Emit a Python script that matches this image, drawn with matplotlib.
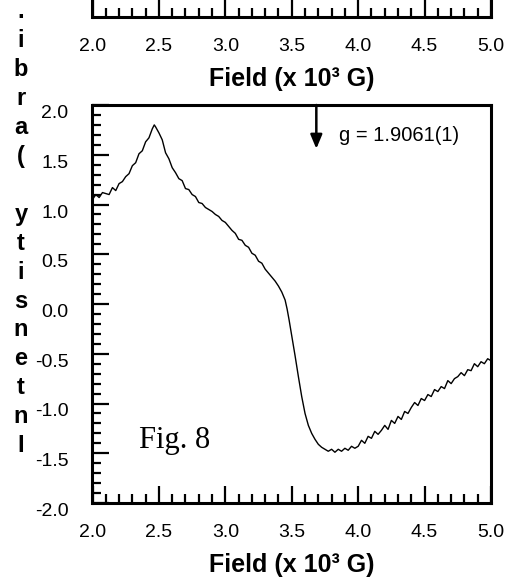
import matplotlib
matplotlib.use("Agg")
import matplotlib.pyplot as plt
from matplotlib.ticker import FixedLocator, MultipleLocator
from matplotlib.transforms import ScaledTranslation

# ---------------- data ----------------
field = [
    2.000, 2.025, 2.050, 2.075, 2.100, 2.125, 2.150, 2.175, 2.200, 2.225,
    2.250, 2.275, 2.300, 2.325, 2.350, 2.375, 2.400, 2.425, 2.450, 2.465,
    2.475, 2.500, 2.525, 2.550, 2.575, 2.600, 2.625, 2.650, 2.675, 2.700,
    2.725, 2.750, 2.775, 2.800, 2.825, 2.850, 2.875, 2.900, 2.925, 2.950,
    2.975, 3.000, 3.025, 3.050, 3.075, 3.100, 3.125, 3.150, 3.175, 3.200,
    3.225, 3.250, 3.275, 3.300, 3.325, 3.350, 3.375, 3.400, 3.425, 3.450,
    3.465, 3.480, 3.500, 3.525, 3.550, 3.575, 3.600, 3.625, 3.650, 3.675,
    3.700, 3.725, 3.750, 3.775, 3.800, 3.825, 3.850, 3.875, 3.900, 3.925,
    3.950, 3.975, 4.000, 4.025, 4.050, 4.075, 4.100, 4.125, 4.150, 4.175,
    4.200, 4.225, 4.250, 4.275, 4.300, 4.325, 4.350, 4.375, 4.400, 4.425,
    4.450, 4.475, 4.500, 4.525, 4.550, 4.575, 4.600, 4.625, 4.650, 4.675,
    4.700, 4.725, 4.750, 4.775, 4.800, 4.825, 4.850, 4.875, 4.900, 4.925,
    4.950, 4.975, 5.000,
]
intensity = [
    1.05, 1.10, 1.07, 1.12, 1.11, 1.10, 1.17, 1.14, 1.21, 1.23,
    1.28, 1.31, 1.39, 1.42, 1.51, 1.54, 1.63, 1.67, 1.76, 1.80,
    1.78, 1.72, 1.65, 1.52, 1.46, 1.37, 1.32, 1.26, 1.24, 1.16,
    1.15, 1.10, 1.08, 1.02, 1.01, 0.97, 0.95, 0.93, 0.90, 0.88,
    0.84, 0.82, 0.78, 0.74, 0.71, 0.65, 0.64, 0.59, 0.57, 0.51,
    0.49, 0.43, 0.41, 0.35, 0.31, 0.27, 0.23, 0.18, 0.12, 0.04,
    -0.05, -0.16, -0.32, -0.52, -0.73, -0.93, -1.10, -1.22, -1.30, -1.36,
    -1.41, -1.44, -1.46, -1.48, -1.46, -1.49, -1.46, -1.48, -1.45, -1.47,
    -1.43, -1.45, -1.43, -1.37, -1.40, -1.33, -1.35, -1.28, -1.31, -1.27,
    -1.22, -1.26, -1.17, -1.20, -1.13, -1.16, -1.08, -1.10, -1.04, -0.99,
    -1.02, -0.95, -0.97, -0.91, -0.93, -0.86, -0.88, -0.83, -0.85, -0.77,
    -0.80, -0.75, -0.73, -0.69, -0.72, -0.66, -0.67, -0.60, -0.63, -0.58,
    -0.60, -0.55, -0.57,
]
x_ticks = [2.0, 2.5, 3.0, 3.5, 4.0, 4.5, 5.0]
x_tick_labels = ["2.0", "2.5", "3.0", "3.5", "4.0", "4.5", "5.0"]
y_ticks = [-2.0, -1.5, -1.0, -0.5, 0.0, 0.5, 1.0, 1.5, 2.0]
y_tick_labels = ["-2.0", "-1.5", "-1.0", "-0.5", "0.0", "0.5", "1.0", "1.5", "2.0"]
x_label = "Field (x 10\u00b3 G)"
y_label_chars = [".", "i", "b", "r", "a", "(", " ", "y", "t", "i", "s", "n", "e", "t", "n", "I"]
g_field = 3.685
g_arrow_tip = 1.56
g_label = "g = 1.9061(1)"
fig_note = "Fig. 8"

# ---------------- figure ----------------
plt.rcParams["font.family"] = ["Liberation Sans", "DejaVu Sans"]
W, H = 510, 586
fig = plt.figure(figsize=(W / 100, H / 100), dpi=100)


def fx(px):
    return px / W


def fy(py):
    return 1 - py / H


L, R = 92.5, 491.0
SPINE_LW = 2.2
TICK_FS = 14


def style_x(ax):
    ax.set_xlim(2.0, 5.0)
    ax.xaxis.set_major_locator(FixedLocator(x_ticks))
    ax.set_xticklabels(x_tick_labels)
    ax.xaxis.set_minor_locator(MultipleLocator(0.1))
    ax.tick_params(axis="x", which="major", direction="in", length=12.5,
                   width=1.6, labelsize=TICK_FS, pad=15.0, top=False)
    ax.tick_params(axis="x", which="minor", direction="in", length=6.5,
                   width=1.6, top=False)


# remnant of the panel above (only its bottom axis is visible)
ax_top = fig.add_axes([fx(L), fy(16.7), fx(R) - fx(L), 0.2])
style_x(ax_top)
ax_top.set_ylim(0, 1)
ax_top.set_yticks([])
ax_top.spines["top"].set_visible(False)
for s in ("left", "right", "bottom"):
    ax_top.spines[s].set_linewidth(SPINE_LW)

# main panel
ax = fig.add_axes([fx(L), fy(503), fx(R) - fx(L), fy(105) - fy(503)])
ax.plot(field, intensity, color="black", lw=1.0)
style_x(ax)
ax.set_ylim(-2.0, 2.0)
ax.yaxis.set_major_locator(FixedLocator(y_ticks))
ax.set_yticklabels(y_tick_labels)
ax.yaxis.set_minor_locator(MultipleLocator(0.1))
ax.tick_params(axis="y", which="major", direction="in", length=12.5,
               width=1.6, labelsize=TICK_FS, pad=17.4, right=False)
ax.tick_params(axis="y", which="minor", direction="in", length=6.5,
               width=1.6, right=False)
for s in ax.spines.values():
    s.set_linewidth(SPINE_LW)
off = ScaledTranslation(0, -6.5 / 100, fig.dpi_scale_trans)
for lab in ax.get_yticklabels():
    lab.set_transform(lab.get_transform() + off)

# arrow and g-value
ax.annotate("", xy=(g_field, g_arrow_tip), xytext=(g_field, 2.0),
            arrowprops=dict(arrowstyle="-|>,head_length=0.6,head_width=0.25",
                            color="black", lw=1.8, mutation_scale=14,
                            shrinkA=0, shrinkB=0),
            annotation_clip=False)
ax.text(3.858, 1.698, g_label, fontsize=14.5, ha="left", va="center")
ax.text(2.352, -1.45, fig_note, fontsize=22, ha="left", va="baseline",
        family=["Liberation Serif", "DejaVu Serif"])

# x labels
fig.text(fx((L + R) / 2), fy(79), x_label, ha="center", va="center",
         fontsize=18, fontweight="bold")
fig.text(fx((L + R) / 2), fy(565), x_label, ha="center", va="center",
         fontsize=18, fontweight="bold")

# stacked y label letters (reversed, upright)
base_bottom = 452.0
step = 28.9
n = len(y_label_chars)
for i, ch in enumerate(y_label_chars):
    b = base_bottom - (n - 1 - i) * step
    fig.text(fx(21), fy(b), ch, ha="center", va="baseline",
             fontsize=17, fontweight="bold")

fig.savefig("out.png", dpi=100)
